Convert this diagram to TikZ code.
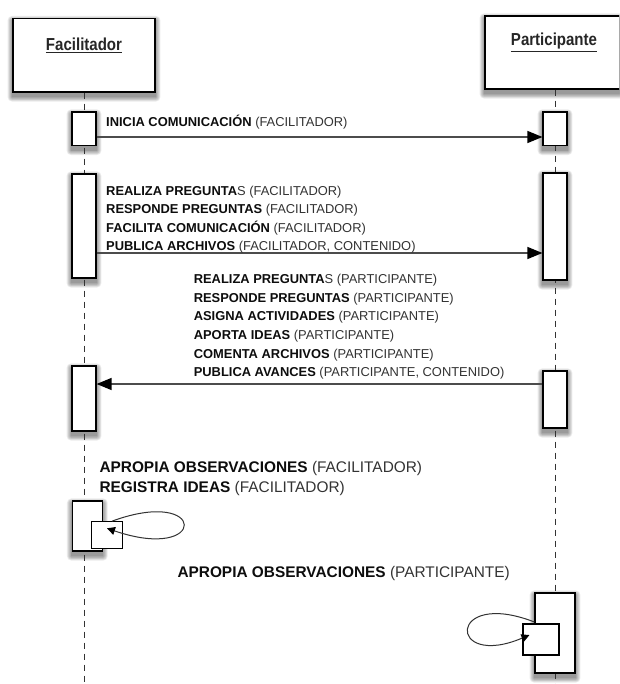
\documentclass[tikz,border=0pt]{standalone}
\usepackage{fontspec}
\setmainfont{Liberation Sans}
\usetikzlibrary{arrows.meta}
\definecolor{txtreg}{gray}{0.2}
\definecolor{txtbold}{gray}{0.05}
\definecolor{lifecol}{gray}{0.2}
\newcommand\boldkw[1]{\textcolor{txtbold}{\bfseries #1}}
\pgfdeclarelayer{paperlayer}
\pgfdeclarelayer{shadowlayer}
\pgfsetlayers{paperlayer,shadowlayer,main}
\begin{document}
\begin{tikzpicture}[x=1pt,y=-1pt,
  box/.style={draw=black, line width=1.2pt, fill=white, inner sep=0pt},
  act/.style={box, minimum width=24pt},
  head/.style={box},
  headtxt/.style={inner sep=0pt, font=\fontsize{15.5}{18}\selectfont\bfseries, text=black!85},
  lifeline/.style={draw=lifecol, line width=1pt, dash pattern=on 6pt off 5pt},
  msg/.style={draw=black!70, line width=1.3pt, -{Triangle[length=15pt,width=12pt,color=black]}},
  selfmsg/.style={draw=black!80, line width=1pt, -{Triangle[length=8pt,width=8pt,color=black]}},
  lbl/.style={anchor=base west, inner sep=0pt, font=\fontsize{12.9}{15}\selectfont, text=txtreg},
  lblbig/.style={anchor=base west, inner sep=0pt, font=\fontsize{15.4}{18}\selectfont, text=txtreg}
]
\clip (0,0) rectangle (619,684);
\begin{pgfonlayer}{paperlayer}
\fill[white] (0,0) rectangle (619,684);
\end{pgfonlayer}

% lifelines
\coordinate (eF) at (84,690);
\coordinate (eP) at (555,690);
\node[head, minimum width=142pt, minimum height=73.5pt] (hF) at (84,55.25) {};
\node[head, minimum width=140pt, minimum height=73pt] (hP) at (555,52.5) {};
\node[headtxt] (hFt) at (84,45.5) {\scalebox{0.97}[1.12]{\underline{Facilitador}}};
\node[headtxt] (hPt) at (554,42.5) {\scalebox{0.97}[1.12]{\underline{Participante}}};
\draw[lifeline] (hF.south) -- (eF);
\draw[lifeline] (hP.south) -- (eP);

% activation boxes
\node[act, minimum height=33.5pt] (a1F) at (84,128.75) {};
\node[act, minimum height=33.5pt] (a1P) at (555,128.75) {};
\node[act, minimum height=104pt] (a2F) at (84,226) {};
\node[act, minimum height=107pt] (a2P) at (555,226.5) {};
\node[act, minimum height=65pt] (a3F) at (84,398.5) {};
\node[act, minimum height=57pt] (a3P) at (555,399.5) {};
\node[box, minimum width=30pt, minimum height=50pt] (sFb) at (87.3,526) {};
\node[box, line width=1.1pt, minimum width=30.6pt, minimum height=26.6pt] (sFs) at (107,535) {};
\node[box, minimum width=40pt, minimum height=80pt] (sPb) at (555,633) {};
\node[box, line width=1.1pt, minimum width=36pt, minimum height=31pt] (sPs) at (541,639.5) {};

% soft drop shadows
\begin{pgfonlayer}{shadowlayer}
\foreach \n in {hF,hP,a1F,a1P,a2F,a2P,a3F,a3P,sFb,sPb}{
  \foreach \k in {0,1,...,5}{
    \fill[black, opacity=0.08, rounded corners=\k*0.9pt]
      ([shift={(-\k*0.9pt-0.3pt,-4.5pt-\k*0.9pt)}]\n.south west)
      rectangle ([shift={(\k*0.9pt+0.3pt,-2.5pt+\k*0.9pt)}]\n.north east);
  }
}
\end{pgfonlayer}

% messages
\coordinate (y1) at (0,137);
\coordinate (y2) at (0,253);
\coordinate (y3) at (0,384);
\draw[msg] (a1F.east |- y1) -- (a1P.west |- y1);
\draw[msg] (a2F.east |- y2) -- (a2P.west |- y2);
\draw[msg] (a3P.west |- y3) -- (a3F.east |- y3);

% self messages
\draw[selfmsg] ([xshift=5pt]sFs.north) .. controls (208,486) and (208,563) .. ([yshift=6.7pt]sFs.center);
\draw[selfmsg] ([yshift=11pt]sPb.west) .. controls (447,588) and (447,670) .. ([xshift=7pt,yshift=4.5pt]sPs.west);

% labels
\node[lbl] (t1) at (106,127) {\boldkw{INICIA COMUNICACIÓN} (FACILITADOR)};

\node[lbl] (t2a) at (106,195.5) {\boldkw{REALIZA PREGUNTA}S (FACILITADOR)};
\node[lbl] (t2b) at (106,214) {\boldkw{RESPONDE PREGUNTAS} (FACILITADOR)};
\node[lbl] (t2c) at (106,232.5) {\boldkw{FACILITA COMUNICACIÓN} (FACILITADOR)};
\node[lbl] (t2d) at (106,251) {\boldkw{PUBLICA ARCHIVOS} (FACILITADOR, CONTENIDO)};

\node[lbl] (t3a) at (193.6,283.6) {\boldkw{REALIZA PREGUNTA}S (PARTICIPANTE)};
\node[lbl] (t3b) at (193.6,302.2) {\boldkw{RESPONDE PREGUNTAS} (PARTICIPANTE)};
\node[lbl] (t3c) at (193.6,320.8) {\boldkw{ASIGNA ACTIVIDADES} (PARTICIPANTE)};
\node[lbl] (t3d) at (193.6,339.4) {\boldkw{APORTA IDEAS} (PARTICIPANTE)};
\node[lbl] (t3e) at (193.6,358) {\boldkw{COMENTA ARCHIVOS} (PARTICIPANTE)};
\node[lbl] (t3f) at (193.6,376.6) {\boldkw{PUBLICA AVANCES} (PARTICIPANTE, CONTENIDO)};

\node[lblbig] (t4a) at (99.3,472.2) {\boldkw{APROPIA OBSERVACIONES} (FACILITADOR)};
\node[lblbig] (t4b) at (99.3,492.2) {\boldkw{REGISTRA IDEAS} (FACILITADOR)};

\node[lblbig] (t5) at (177.3,577.2) {\boldkw{APROPIA OBSERVACIONES} (PARTICIPANTE)};
\end{tikzpicture}
\end{document}
